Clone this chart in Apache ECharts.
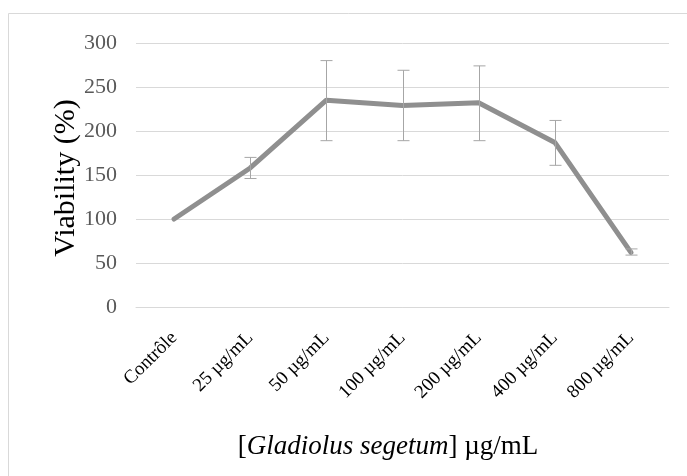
<!DOCTYPE html>
<html>
<head>
<meta charset="utf-8">
<script src="https://cdn.jsdelivr.net/npm/echarts@6/dist/echarts.min.js"></script>
<style>html,body{margin:0;padding:0;background:#fff}#c{width:687px;height:476px}</style>
</head>
<body>
<div id="c"></div>
<script>
var categories = ['Contrôle', '25 µg/mL', '50 µg/mL', '100 µg/mL', '200 µg/mL', '400 µg/mL', '800 µg/mL'];
var viability = [100, 158, 235, 229, 232, 187, 62];
var errLow = [100, 146, 189, 189, 189, 161, 59];
var errHigh = [100, 170, 280, 269, 274, 212, 66];
var yTicks = [0, 50, 100, 150, 200, 250, 300];

var errData = categories.map(function (c, i) { return [i, errLow[i], errHigh[i]]; });
var serif = '"Liberation Serif","Times New Roman",serif';

var chart = echarts.init(document.getElementById('c'), null, {renderer: 'canvas'});
chart.setOption({
  backgroundColor: '#fff',
  animation: false,
  grid: {left: 136, right: 18, top: 43, bottom: 169, containLabel: false},
  xAxis: {
    type: 'category',
    data: categories,
    boundaryGap: true,
    axisLine: {show: true, lineStyle: {color: '#d9d9d9', width: 1}},
    axisTick: {show: false},
    axisLabel: {rotate: 45, color: '#000', fontFamily: serif, fontSize: 19, margin: 28, interval: 0}
  },
  yAxis: {
    type: 'value',
    min: yTicks[0], max: yTicks[yTicks.length - 1], interval: 50,
    axisLine: {show: false},
    axisTick: {show: false},
    splitLine: {lineStyle: {color: '#d9d9d9', width: 1}},
    axisLabel: {color: '#595959', fontFamily: serif, fontSize: 22, margin: 19}
  },
  graphic: [
    {type: 'rect', shape: {x: 8.5, y: 13.5, width: 700, height: 500}, style: {fill: 'none', stroke: '#d9d9d9', lineWidth: 1}, silent: true},
    {type: 'text', x: 66, y: 178, rotation: Math.PI / 2, style: {text: 'Viability (%)', font: '30px ' + serif, fill: '#000', align: 'center', verticalAlign: 'middle'}},
    {type: 'text', x: 388, y: 447, style: {
      text: '{b|[}{i|Gladiolus segetum}{b|] µg/mL}',
      rich: {b: {fontFamily: serif, fontSize: 27, fill: '#000'}, i: {fontFamily: serif, fontSize: 27, fontStyle: 'italic', fill: '#000'}},
      align: 'center', verticalAlign: 'middle'}}
  ],
  series: [
    {
      type: 'line', data: viability, symbol: 'none', z: 2,
      lineStyle: {color: '#8f8f8f', width: 5, join: 'round', cap: 'round'}
    },
    {
      type: 'custom', z: 3, data: errData,
      renderItem: function (params, api) {
        var i = api.value(0);
        var lo = api.coord([i, api.value(1)]);
        var hi = api.coord([i, api.value(2)]);
        if (Math.abs(lo[1] - hi[1]) < 0.5) return {type: 'group', children: []};
        var x = Math.round(lo[0]) + 0.5, h = 6;
        var st = {stroke: '#a6a6a6', lineWidth: 1};
        return {type: 'group', children: [
          {type: 'line', shape: {x1: x, y1: hi[1], x2: x, y2: lo[1]}, style: st},
          {type: 'line', shape: {x1: x - h, y1: hi[1], x2: x + h, y2: hi[1]}, style: st},
          {type: 'line', shape: {x1: x - h, y1: lo[1], x2: x + h, y2: lo[1]}, style: st}
        ]};
      }
    }
  ]
});
</script>
</body>
</html>
